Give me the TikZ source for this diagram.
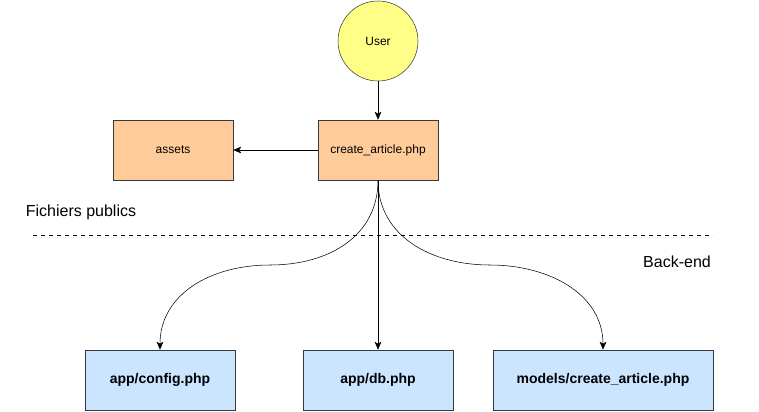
\documentclass[tikz,border=0pt]{standalone}
\usepackage{fontspec}
\setmainfont{Liberation Sans}
\usetikzlibrary{shapes}
\usetikzlibrary{arrows.meta}
\usetikzlibrary{positioning}
\usetikzlibrary{calc}
\definecolor{strokegray}{HTML}{36393D}
\definecolor{useryellow}{HTML}{FFFF88}
\definecolor{fileorange}{HTML}{FFCC99}
\definecolor{backblue}{HTML}{CCE5FF}
\begin{document}
\begin{tikzpicture}[x=0.75pt,y=-0.75pt]
\tikzstyle{actor} = [circle, draw=strokegray, fill=useryellow, minimum size=60pt,
inner sep=0pt, font=\fontsize{9pt}{11pt}\selectfont]
\tikzstyle{public} = [rectangle, draw=strokegray, fill=fileorange, minimum width=90pt,
minimum height=45pt, inner sep=0pt, font=\fontsize{9pt}{11pt}\selectfont]
\tikzstyle{backend} = [rectangle, draw=strokegray, fill=backblue, minimum width=112.5pt,
minimum height=45pt, inner sep=0pt, font=\fontsize{10.5pt}{12pt}\selectfont\bfseries]
\tikzstyle{zone} = [font=\fontsize{12pt}{14pt}\selectfont, inner sep=0pt]
\tikzstyle{line} = [draw=black, -{Stealth[length=6pt,width=5pt,inset=1.5pt]}]
\useasboundingbox (0,0) rectangle (759,411);
% user and public files
\node [actor] (user) at (378,41) {User};
\node [public] (create) at (378,150) {create\_article.php};
\node [public] (assets) at (173,150) {assets};
% zones
\node [zone] (public) at (81,212) {Fichiers publics};
\node [zone] (backlabel) at (677,262) {Back-end};
\coordinate (sepleft) at (33,235);
\coordinate (sepright) at (713,235);
\draw [dashed, draw=black] (sepleft) -- (sepright);
% back-end files
\node [backend] (config) at (160,380) {app/config.php};
\node [backend] (db) at (378,380) {app/db.php};
\node [backend, minimum width=165pt] (model) at (603,380) {models/create\_article.php};
% bends of the curved links
\coordinate (bendleft) at (270,265);
\coordinate (bendright) at (490,265);
% links
\draw [line] (user) -- (create);
\draw [line] (create) -- (assets);
\draw [line] (create.south) .. controls +(0,55) and +(60,0) .. (bendleft)
  .. controls +(-60,0) and +(0,-55) .. (config.north);
\draw [line] (create.south) -- (db.north);
\draw [line] (create.south) .. controls +(0,55) and +(-60,0) .. (bendright)
  .. controls +(60,0) and +(0,-55) .. (model.north);
\end{tikzpicture}
\end{document}
